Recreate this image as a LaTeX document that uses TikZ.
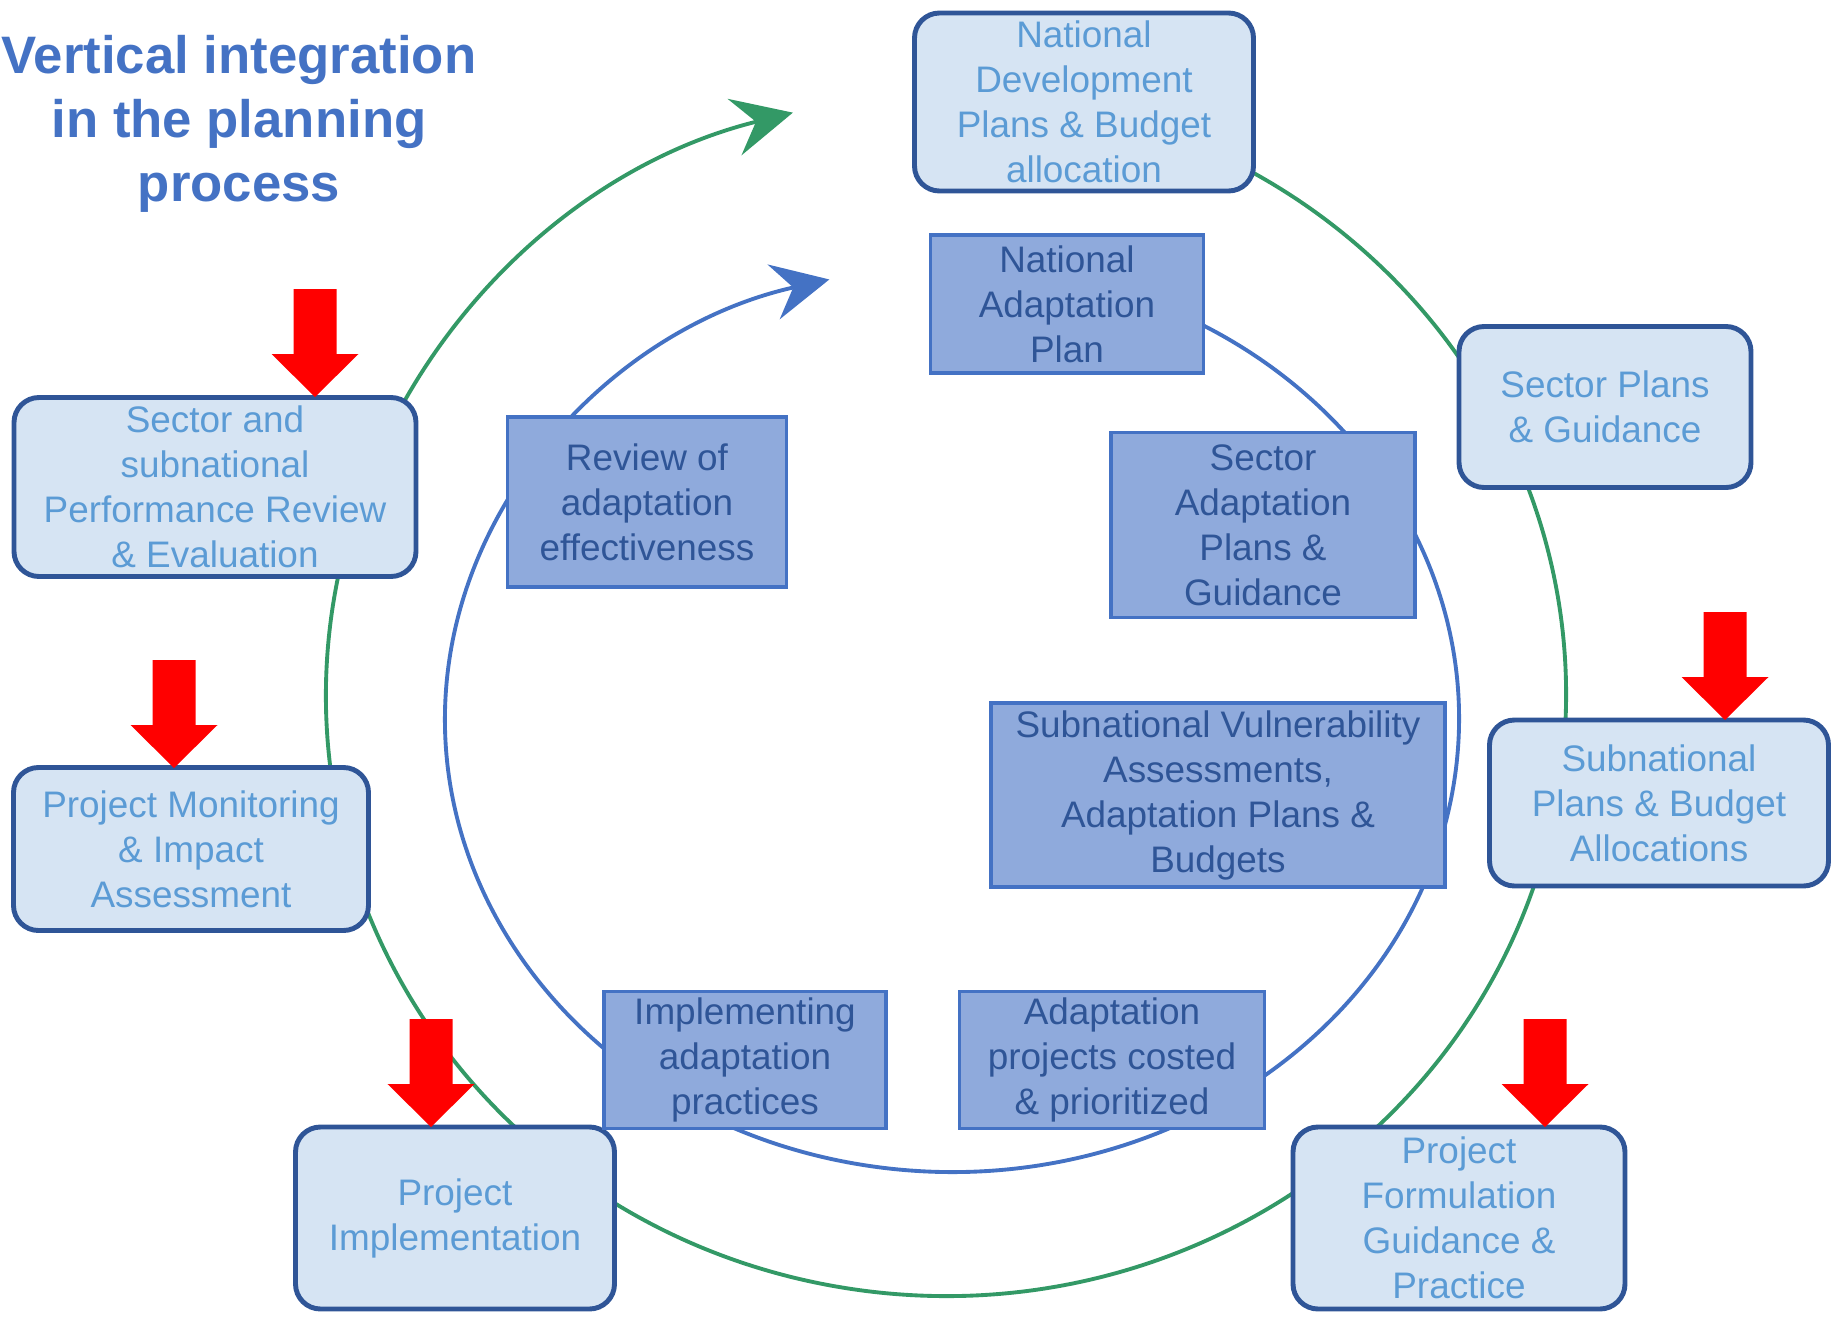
\documentclass[tikz,border=0pt]{standalone}
\usepackage{fontspec}
\setmainfont{Liberation Sans}
\usepackage{xcolor}
\usepackage{tikz}
\usetikzlibrary{arrows.meta}

\definecolor{lightfill}{HTML}{D6E4F3}
\definecolor{lightdraw}{HTML}{2F5597}
\definecolor{lighttext}{HTML}{5B9BD5}
\definecolor{darkfill}{HTML}{8FAADC}
\definecolor{darkdraw}{HTML}{4472C4}
\definecolor{darktext}{HTML}{2F5597}
\definecolor{cyclegreen}{HTML}{339966}

\begin{document}
\begin{tikzpicture}[
    planbox/.style={rectangle, rounded corners=2.5mm, draw=lightdraw, line width=1.4pt, fill=lightfill, text=lighttext, align=center, inner sep=0pt, font=\fontsize{10.5}{12.8}\selectfont},
    adaptbox/.style={rectangle, draw=darkdraw, line width=1.1pt, fill=darkfill, text=darktext, align=center, inner sep=0pt, font=\fontsize{10.5}{12.8}\selectfont},
    greencycle/.style={draw=cyclegreen, line width=1.1pt, -{Stealth[length=6mm, width=5.8mm, inset=2.2mm]}},
    bluecycle/.style={draw=darkdraw, line width=1.1pt, -{Stealth[length=5.7mm, width=5.6mm, inset=2mm]}}
]
    \useasboundingbox (0,0) rectangle (18.32,-13.19);

    % the two cycles
    \coordinate (gc) at (9.46,-6.95);
    \coordinate (bc) at (9.52,-7.19);
    \draw [greencycle] (gc) ++(80:6.20 and 6.01) arc[start angle=80, end angle=-255.7, x radius=6.20, y radius=6.01];
    \draw [bluecycle] (bc) ++(80:5.07 and 4.53) arc[start angle=80, end angle=-256, x radius=5.07, y radius=4.53];

    \node (title) [font=\fontsize{15}{18.2}\selectfont\bfseries, text=darkdraw, align=center] at (2.39,-1.24) {Vertical integration\\in the planning\\process};

    % planning process
    \node (ndp) [planbox, minimum width=3.39cm, minimum height=1.78cm] at (10.84,-1.02) {National\\Development\\Plans \& Budget\\allocation};
    \node (sectorplans) [planbox, minimum width=2.92cm, minimum height=1.61cm] at (16.05,-4.07) {Sector Plans\\\& Guidance};
    \node (subplans) [planbox, minimum width=3.39cm, minimum height=1.66cm] at (16.59,-8.03) {Subnational\\Plans \& Budget\\Allocations};
    \node (projform) [planbox, minimum width=3.32cm, minimum height=1.82cm] at (14.59,-12.18) {Project\\Formulation\\Guidance \&\\Practice};
    \node (projimpl) [planbox, minimum width=3.19cm, minimum height=1.82cm] at (4.55,-12.18) {Project\\Implementation};
    \node (projmon) [planbox, minimum width=3.55cm, minimum height=1.63cm] at (1.91,-8.49) {Project Monitoring\\\& Impact\\Assessment};
    \node (perfreview) [planbox, minimum width=4.02cm, minimum height=1.79cm] at (2.15,-4.87) {Sector and\\subnational\\Performance Review\\\& Evaluation};

    % adaptation process
    \node (nap) [adaptbox, minimum width=2.73cm, minimum height=1.38cm] at (10.67,-3.04) {National\\Adaptation\\Plan};
    \node (sectoradapt) [adaptbox, minimum width=3.04cm, minimum height=1.85cm] at (12.63,-5.25) {Sector\\Adaptation\\Plans \&\\Guidance};
    \node (subvuln) [adaptbox, minimum width=4.54cm, minimum height=1.84cm] at (12.18,-7.95) {Subnational Vulnerability\\Assessments,\\Adaptation Plans \&\\Budgets};
    \node (costed) [adaptbox, minimum width=3.05cm, minimum height=1.37cm] at (11.12,-10.60) {Adaptation\\projects costed\\\& prioritized};
    \node (implprac) [adaptbox, minimum width=2.82cm, minimum height=1.37cm] at (7.45,-10.60) {Implementing\\adaptation\\practices};
    \node (review) [adaptbox, minimum width=2.79cm, minimum height=1.70cm] at (6.47,-5.02) {Review of\\adaptation\\effectiveness};

    % red entry points
    \foreach \x/\y in {3.15/3.97, 1.74/7.68, 4.31/11.27, 17.25/7.20, 15.45/11.27}
        \fill [red] (\x,-\y) -- ++(-0.435,0.43) -- ++(0.22,0) -- ++(0,0.65) -- ++(0.43,0) -- ++(0,-0.65) -- ++(0.22,0) -- cycle;
\end{tikzpicture}
\end{document}
